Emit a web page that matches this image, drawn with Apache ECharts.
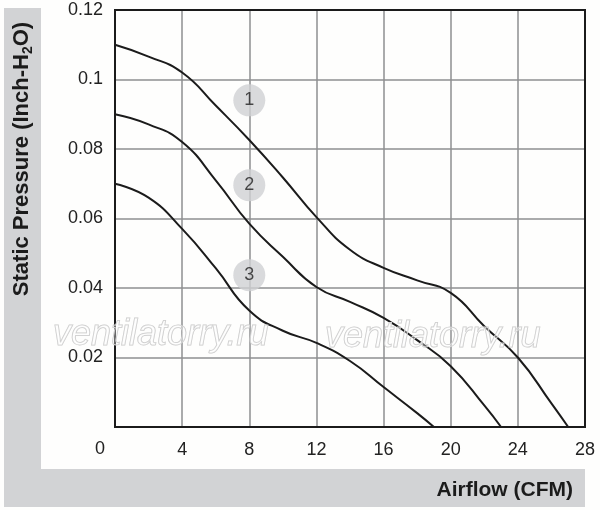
<!DOCTYPE html>
<html>
<head>
<meta charset="utf-8">
<script src="https://cdn.jsdelivr.net/npm/echarts@6/dist/echarts.min.js"></script>
<style>
html,body{margin:0;padding:0;background:#fefefd;}
#chart{width:600px;height:510px;}
</style>
</head>
<body>
<div id="chart"></div>
<script>
// Axis ranges / ticks
var xTicks = [0, 4, 8, 12, 16, 20, 24, 28];
var yTicks = [0, 0.02, 0.04, 0.06, 0.08, 0.1, 0.12];

// Curve 1
var curve1X = [0, 2, 4, 6, 8, 10, 12, 14, 16, 18, 20, 22, 24, 26, 27];
var curve1Y = [0.110, 0.1066, 0.1020, 0.0925, 0.0826, 0.0718, 0.0604, 0.0510, 0.0458, 0.0422, 0.0386, 0.0290, 0.0200, 0.0068, 0];
// Curve 2
var curve2X = [0, 2, 4, 6, 8, 10, 12, 14, 16, 18, 20, 22, 23];
var curve2Y = [0.090, 0.0871, 0.0820, 0.0710, 0.0585, 0.0490, 0.0403, 0.0360, 0.0314, 0.0250, 0.0175, 0.0062, 0];
// Curve 3
var curve3X = [0, 2, 4, 6, 8, 10, 12, 14, 16, 18, 19];
var curve3Y = [0.070, 0.0660, 0.0570, 0.0457, 0.0335, 0.0277, 0.0242, 0.0190, 0.0115, 0.0040, 0];

// Curve markers
var markerX = [8, 8, 8];
var markerY = [0.094, 0.0696, 0.0437];
var markerLabels = ['1', '2', '3'];

var xTitle = 'Airflow (CFM)';
var watermark = 'ventilatorry.ru';

function pairs(xs, ys) { return xs.map(function (x, i) { return [x, ys[i]]; }); }

var lineStyle = { color: '#1b1b1b', width: 2 };
var curves = [[curve1X, curve1Y], [curve2X, curve2Y], [curve3X, curve3Y]];

var series = curves.map(function (c) {
  return {
    type: 'line', data: pairs(c[0], c[1]), smooth: 0.5, showSymbol: false,
    lineStyle: lineStyle, silent: true, z: 3
  };
});
series.push({
  type: 'scatter', symbol: 'circle', symbolSize: 32, z: 4, silent: true,
  itemStyle: { color: '#d0d1d3' },
  data: markerX.map(function (x, i) { return { value: [x, markerY[i]], name: markerLabels[i] }; }),
  label: { show: true, position: 'inside', formatter: '{b}', color: '#1f1f1f', fontSize: 18, fontFamily: 'Liberation Sans, Arial, sans-serif' }
});

var chart = echarts.init(document.getElementById('chart'), null, { renderer: 'canvas' });
var ff = 'Liberation Sans, Arial, Helvetica, sans-serif';
chart.setOption({
  backgroundColor: '#fefefd',
  animation: false,
  grid: { left: 115, top: 10, right: 15, bottom: 83, show: true, borderColor: '#1b1b1b', borderWidth: 2, backgroundColor: 'transparent', z: 5 },
  xAxis: {
    type: 'value', min: xTicks[0], max: xTicks[xTicks.length - 1], interval: 4,
    axisLine: { show: false }, axisTick: { show: false },
    splitLine: { show: true, lineStyle: { color: '#8e8f91', width: 1.5 } },
    axisLabel: { margin: 14, color: '#222', fontSize: 18, fontFamily: ff,
      formatter: function (v) { return v === 0 ? '' : String(v); } }
  },
  yAxis: {
    type: 'value', min: yTicks[0], max: yTicks[yTicks.length - 1], interval: 0.02,
    axisLine: { show: false }, axisTick: { show: false },
    splitLine: { show: true, lineStyle: { color: '#8e8f91', width: 1.5 } },
    axisLabel: { margin: 12, color: '#222', fontSize: 18, fontFamily: ff,
      formatter: function (v) { return v === 0 ? '' : String(+v.toFixed(2)); } }
  },
  graphic: [
    { type: 'rect', shape: { x: 4, y: 8, width: 37, height: 499 }, style: { fill: '#d2d3d5' }, z: -10, silent: true },
    { type: 'rect', shape: { x: 4, y: 469, width: 581, height: 38 }, style: { fill: '#d2d3d5' }, z: -10, silent: true },
    { type: 'text', x: 100, y: 449, style: { text: String(xTicks[0]), fill: '#222', font: '18px ' + ff, align: 'center', verticalAlign: 'middle' }, silent: true },
    { type: 'text', x: 573, y: 490, style: { text: xTitle, fill: '#1b1b1b', font: 'bold 21px ' + ff, align: 'right', verticalAlign: 'middle' }, silent: true },
    { type: 'text', x: 22, y: 159, rotation: Math.PI / 2,
      style: {
        text: '{m|Static Pressure (Inch-H}{s|2}{m|O)}',
        align: 'center', verticalAlign: 'middle', fill: '#1b1b1b',
        rich: {
          m: { fontSize: 22, fontWeight: 'bold', fontFamily: ff, lineHeight: 27, fill: '#1b1b1b' },
          s: { fontSize: 14, fontWeight: 'bold', fontFamily: ff, lineHeight: 14, verticalAlign: 'bottom', fill: '#1b1b1b' }
        }
      }, silent: true },
    { type: 'text', x: 53, y: 335, z: 10,
      style: { text: watermark, font: 'italic 36px ' + ff, fill: 'rgba(255,255,255,0.35)', stroke: '#c9c9c9', lineWidth: 1, align: 'left', verticalAlign: 'middle' }, silent: true },
    { type: 'text', x: 325, y: 337, z: 10,
      style: { text: watermark, font: 'italic 36px ' + ff, fill: 'rgba(255,255,255,0.35)', stroke: '#c9c9c9', lineWidth: 1, align: 'left', verticalAlign: 'middle' }, silent: true }
  ],
  series: series
});
</script>
</body>
</html>
